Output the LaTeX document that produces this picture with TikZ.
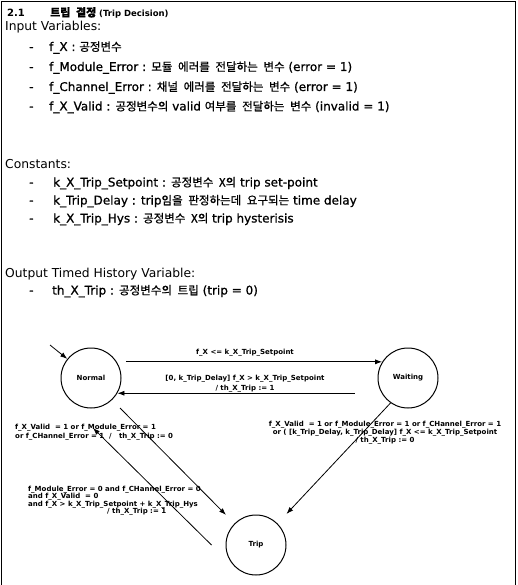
\documentclass[tikz,border=0pt]{standalone}
\usepackage{fontspec}
\setmainfont{DejaVu Sans}
\newfontfamily\medfont{DejaVu Sans}[FakeBold=0.9]
\newfontfamily\krfont{Noto Sans CJK KR}[WordSpace=2.2,FakeBold=0.9]
\usetikzlibrary{arrows.meta}
\newcommand\kor[1]{{\krfont\fontsize{11.5}{13}\selectfont #1}}
\begin{document}
\begin{tikzpicture}[x=1pt,y=-1pt,
  txt/.style={anchor=base west, inner sep=0pt, font=\fontsize{12.3}{14}\selectfont},
  itm/.style={anchor=base west, inner sep=0pt, font=\medfont\fontsize{12}{14}\selectfont},
  lbl/.style={inner sep=0pt, font=\fontsize{7}{7.5}\selectfont\bfseries},
  state/.style={circle, draw, line width=1pt, minimum size=60pt, inner sep=0pt, font=\fontsize{7}{8}\selectfont\bfseries},
  arr/.style={-{Latex[length=7pt,width=5pt]}, line width=0.8pt}]
\useasboundingbox (0,0) rectangle (517,585);
\draw[line width=0.6pt] (1,585) -- (1,1) -- (515,1) -- (515,585);

% heading
\node[itm, font=\fontsize{10}{12}\selectfont\bfseries] (h0) at (7,16.5) {2.1};
\node[itm, font=\fontsize{8.5}{9}\selectfont\bfseries] (h1) at (50,16.5) {{\krfont\fontsize{11}{12}\selectfont 트립 결정} (Trip Decision)};

\node[txt] (iv) at (5,31) {Input Variables:};
\foreach \yy/\nm in {51/d1,71/d2,91/d3,110.5/d4,186.5/d5,204.5/d6,222.5/d7,294.5/d8}
  \node[itm] (\nm) at (29,\yy) {-};
\node[itm] (i1) at (49,51) {f\_X : \kor{공정변수}};
\node[itm] (i2) at (49,71) {f\_Module\_Error : \kor{모듈 에러를 전달하는 변수} (error = 1)};
\node[itm] (i3) at (49,91) {f\_Channel\_Error : \kor{채널 에러를 전달하는 변수} (error = 1)};
\node[itm] (i4) at (49,110.5) {f\_X\_Valid : \kor{공정변수의} valid \kor{여부를 전달하는 변수} (invalid = 1)};

\node[txt] (cs) at (5,168.5) {Constants:};
\node[itm] (c1) at (53,186.5) {k\_X\_Trip\_Setpoint : \kor{공정변수 X의} trip set-point};
\node[itm] (c2) at (53,204.5) {k\_Trip\_Delay : trip\kor{임을 판정하는데 요구되는} time delay};
\node[itm] (c3) at (53,222.5) {k\_X\_Trip\_Hys : \kor{공정변수 X의} trip hysterisis};

\node[txt] (ot) at (5,277.5) {Output Timed History Variable:};
\node[itm] (o1) at (52,294.5) {th\_X\_Trip : \kor{공정변수의 트립} (trip = 0)};

% states
\node[state] (N) at (91,378) {Normal};
\node[state] (W) at (408,378) {Waiting};
\node[state] (T) at (256,545) {Trip};

\coordinate (init) at (50,345);
\coordinate (n2t) at (120,408);
\coordinate (t2n) at (93,428);

\draw[arr] (init) -- (N);
\draw[arr] ([xshift=9pt]N.32) -- (W.148);
\draw[arr] ([xshift=-27pt]W.210) -- (N.-30);
\draw[arr, shorten >=12pt] (n2t) -- (T.135);
\draw[arr] ([xshift=-14pt]T.180) -- (t2n);
\draw[arr, shorten >=13pt] (W.235) -- (T.45);

% labels (base anchor = baseline of last line)
\node[lbl, anchor=base] (l1) at (245,354.5) {f\_X <= k\_X\_Trip\_Setpoint};
\node[lbl, anchor=base, align=center] (l2) at (245,390.5) {[0, k\_Trip\_Delay] f\_X > k\_X\_Trip\_Setpoint\\[3pt] / th\_X\_Trip := 1};
\node[lbl, anchor=base west, align=left] (l3) at (15,438) {f\_X\_Valid\ \ = 1 or f\_Module\_Error = 1\\[1.5pt] or f\_CHannel\_Error = 1\ \ /\ \ \ th\_X\_Trip := 0};
\node[lbl, anchor=base, align=center] (l4) at (385,442.5) {f\_X\_Valid\ \ = 1 or f\_Module\_Error = 1 or f\_CHannel\_Error = 1\\[1pt] or ( [k\_Trip\_Delay, k\_Trip\_Delay] f\_X <= k\_X\_Trip\_Setpoint\\[0.5pt] / th\_X\_Trip := 0};
\node[lbl, anchor=base west, align=left] (l5) at (28,513.5) {f\_Module\_Error = 0 and f\_CHannel\_Error = 0\\ and f\_X\_Valid\ \ = 0\\ and f\_X > k\_X\_Trip\_Setpoint + k\_X\_Trip\_Hys\\ \hspace*{79pt}/ th\_X\_Trip := 1};
\end{tikzpicture}
\end{document}
